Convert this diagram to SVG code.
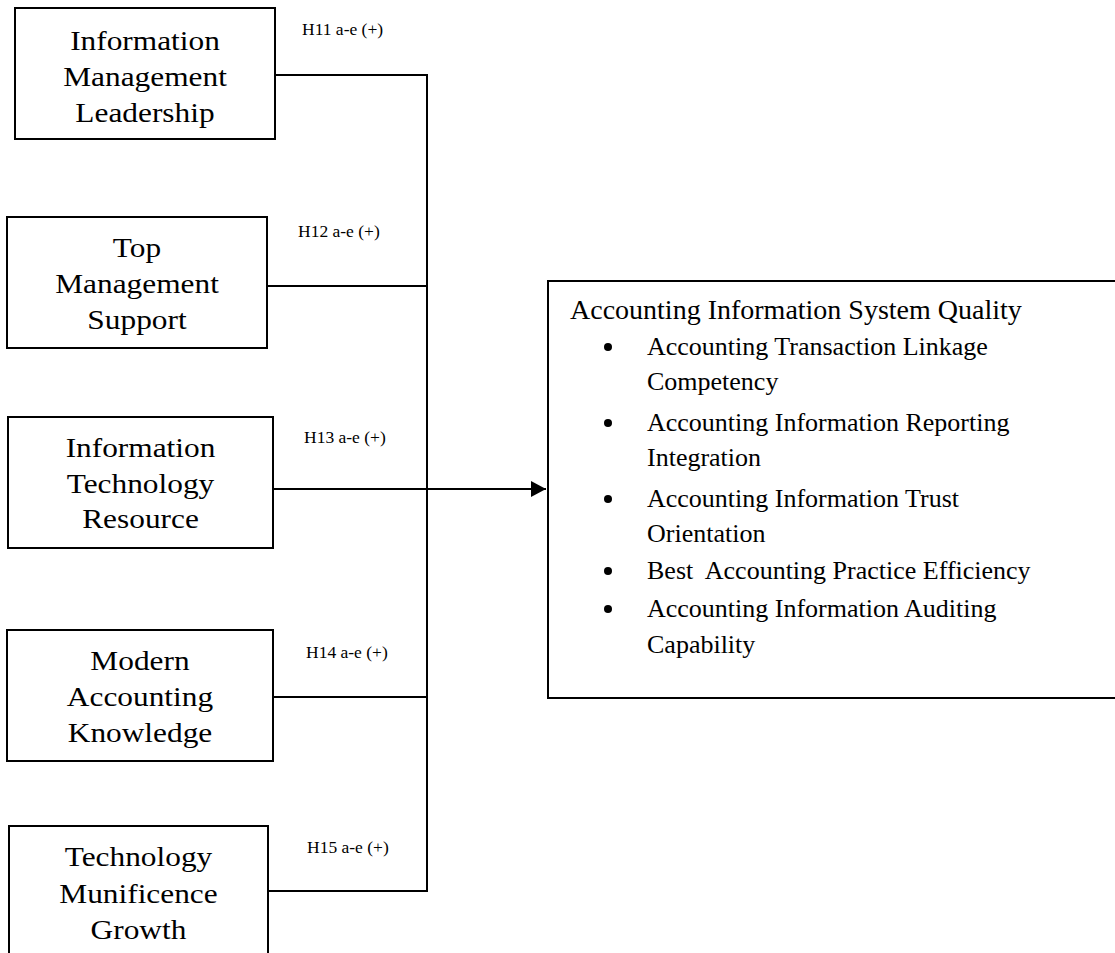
<svg xmlns="http://www.w3.org/2000/svg" width="1115" height="953" viewBox="0 0 1115 953">
  <style>
    .box { fill: #fff; stroke: #000; stroke-width: 2; }
    .name { font-family: "Liberation Serif", "Times New Roman", serif; font-size: 28px; text-anchor: middle; fill: #000; }
    .hyp { font-family: "Liberation Serif", "Times New Roman", serif; font-size: 17.5px; fill: #000; }
    .wire { fill: none; stroke: #000; stroke-width: 2; }
    .title { font-family: "Liberation Serif", "Times New Roman", serif; font-size: 28px; fill: #000; }
    .item { font-family: "Liberation Serif", "Times New Roman", serif; font-size: 26px; fill: #000; }
    .dot { fill: #000; }
  </style>
  <defs>
    <marker id="arrow" markerUnits="userSpaceOnUse" markerWidth="16" markerHeight="17" refX="15" refY="8" orient="auto">
      <path d="M0,0 L15,8 L0,16 z" fill="#000"/>
    </marker>
  </defs>

  <rect width="1115" height="953" fill="#fff"/>

  <!-- connectors: five antecedents merge into one bus feeding AIS quality -->
  <g id="connectors">
    <path class="wire" d="M275,75 H427"/>
    <path class="wire" d="M267,286 H427"/>
    <path class="wire" d="M273,697 H427"/>
    <path class="wire" d="M268,891 H427"/>
    <path class="wire" d="M427,74 V892"/>
    <path class="wire" d="M273,489 H546" marker-end="url(#arrow)"/>
  </g>

  <!-- hypothesis labels -->
  <g id="hypotheses">
    <text class="hyp" x="302" y="35">H11 a-e (+)</text>
    <text class="hyp" x="298" y="237">H12 a-e (+)</text>
    <text class="hyp" x="304" y="443">H13 a-e (+)</text>
    <text class="hyp" x="306" y="658">H14 a-e (+)</text>
    <text class="hyp" x="307" y="853">H15 a-e (+)</text>
  </g>

  <g id="info-mgmt-leadership">
    <rect class="box" x="15" y="8" width="260" height="131"/>
    <g transform="translate(145,0) scale(1.12,1)">
      <text class="name" x="0" y="50">Information</text>
      <text class="name" x="0" y="86">Management</text>
      <text class="name" x="0" y="122">Leadership</text>
    </g>
  </g>

  <g id="top-mgmt-support">
    <rect class="box" x="7" y="217" width="260" height="131"/>
    <g transform="translate(137,0) scale(1.12,1)">
      <text class="name" x="0" y="257">Top</text>
      <text class="name" x="0" y="293">Management</text>
      <text class="name" x="0" y="329">Support</text>
    </g>
  </g>

  <g id="it-resource">
    <rect class="box" x="8" y="417" width="265" height="131"/>
    <g transform="translate(140.5,0) scale(1.12,1)">
      <text class="name" x="0" y="457">Information</text>
      <text class="name" x="0" y="493">Technology</text>
      <text class="name" x="0" y="528">Resource</text>
    </g>
  </g>

  <g id="modern-accounting-knowledge">
    <rect class="box" x="7" y="630" width="266" height="131"/>
    <g transform="translate(140,0) scale(1.12,1)">
      <text class="name" x="0" y="670">Modern</text>
      <text class="name" x="0" y="706">Accounting</text>
      <text class="name" x="0" y="742">Knowledge</text>
    </g>
  </g>

  <g id="tech-munificence-growth">
    <rect class="box" x="9" y="826" width="259" height="140"/>
    <g transform="translate(138.5,0) scale(1.12,1)">
      <text class="name" x="0" y="866">Technology</text>
      <text class="name" x="0" y="903">Munificence</text>
      <text class="name" x="0" y="939">Growth</text>
    </g>
  </g>

  <g id="ais-quality">
    <rect class="box" x="548" y="281" width="600" height="417"/>
    <text class="title" x="570" y="319">Accounting Information System Quality</text>
    <circle class="dot" cx="608" cy="347" r="4"/>
    <text class="item" x="647" y="355">Accounting Transaction Linkage</text>
    <text class="item" x="647" y="390">Competency</text>
    <circle class="dot" cx="608" cy="423" r="4"/>
    <text class="item" x="647" y="431">Accounting Information Reporting</text>
    <text class="item" x="647" y="466">Integration</text>
    <circle class="dot" cx="608" cy="499" r="4"/>
    <text class="item" x="647" y="507">Accounting Information Trust</text>
    <text class="item" x="647" y="542">Orientation</text>
    <circle class="dot" cx="608" cy="571" r="4"/>
    <text class="item" x="647" y="579" xml:space="preserve">Best  Accounting Practice Efficiency</text>
    <circle class="dot" cx="608" cy="609" r="4"/>
    <text class="item" x="647" y="617">Accounting Information Auditing</text>
    <text class="item" x="647" y="653">Capability</text>
  </g>
</svg>
